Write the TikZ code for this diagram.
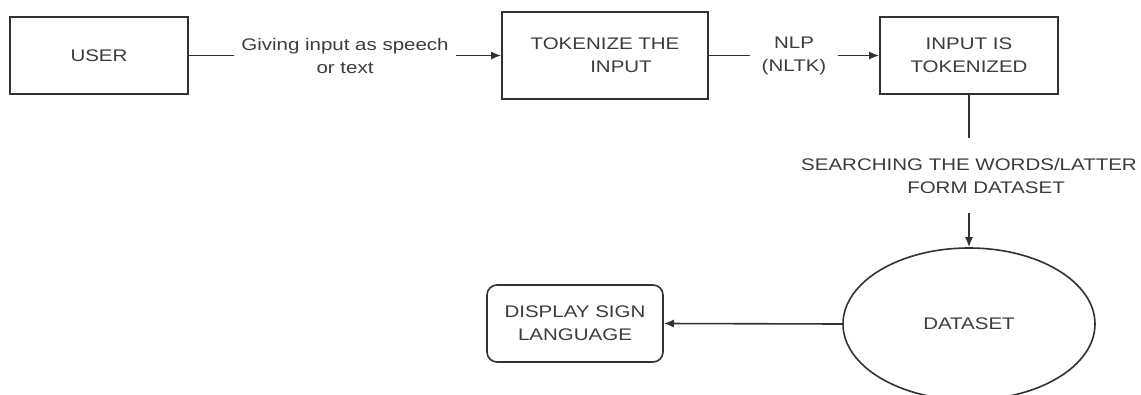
\documentclass[tikz,border=0pt]{standalone}
\usepackage{fontspec}
\setmainfont[FakeStretch=1.22]{Liberation Sans}
\usetikzlibrary{arrows.meta,shapes.geometric}
\definecolor{ink}{RGB}{50,50,50}
\definecolor{txt}{RGB}{60,60,60}
\tikzset{
  lbl/.style={font=\fontsize{16.8}{23}\selectfont, text=txt, align=center},
  boxnode/.style={lbl, draw=ink, line width=1.6pt, inner sep=0pt, rectangle},
  edgelabel/.style={lbl, fill=white, inner ysep=3pt},
  conn/.style={draw=ink, line width=1.6pt, -{Latex[length=10pt,width=8pt]}},
}
\begin{document}
\begin{tikzpicture}[x=1pt,y=-1pt]
\useasboundingbox (0,0) rectangle (1141,394);
\clip (0,0) rectangle (1141,394);
\fill[white] (0,0) rectangle (1141,394);

\node[boxnode, minimum width=178pt, minimum height=77pt] (user) at (99,55.5) {USER};
\node[boxnode, minimum width=206pt, minimum height=87pt] (tok) at (605,55.5) {TOKENIZE THE\\\hspace*{32pt}INPUT};
\node[boxnode, minimum width=178pt, minimum height=77pt] (tokd) at (969,55.5) {INPUT IS\\TOKENIZED};
\node[lbl, draw=ink, line width=1.6pt, ellipse, inner sep=0pt, minimum width=252pt, minimum height=152pt] (data) at (969,324) {DATASET};
\node[boxnode, rounded corners=10pt, minimum width=176pt, minimum height=77pt] (disp) at (575,323.5) {DISPLAY SIGN\\LANGUAGE};

\draw[conn] (user.east) -- node[edgelabel, inner xsep=7pt] (l1) {Giving input as speech\\or text} (tok.west);
\draw[conn] (tok.east) -- node[edgelabel, inner xsep=12pt] (l2) {NLP\\(NLTK)} (tokd.west);
\draw[conn] (tokd.south) -- node[edgelabel, pos=0.53, inner ysep=20pt, inner xsep=2pt] (l3) {SEARCHING THE WORDS/LATTER\\\hspace*{34pt}FORM DATASET} (data.north);
\draw[conn] (data.west) -- (disp.east);
\end{tikzpicture}
\end{document}
